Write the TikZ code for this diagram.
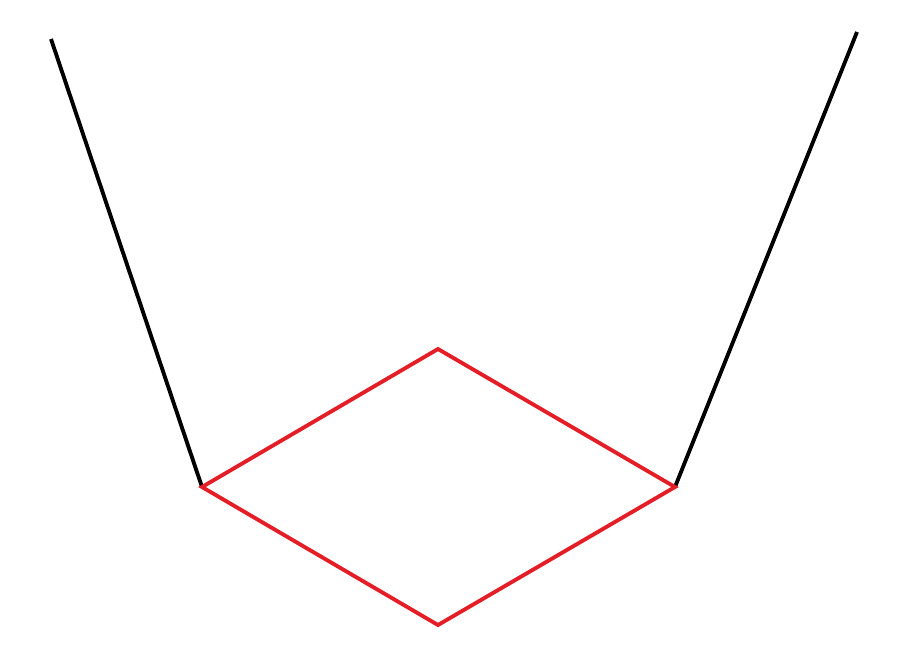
\documentclass[tikz,border=0pt]{standalone}
\definecolor{rhombred}{RGB}{228,30,38}
\begin{document}
\begin{tikzpicture}[x=0.01cm,y=-0.01cm]
            \useasboundingbox (0,0) rectangle (900,645);
            \coordinate (LT) at (51,39);
            \coordinate (L) at (202,487);
            \coordinate (T) at (438,349);
            \coordinate (R) at (675,487);
            \coordinate (B) at (438,625);
            \coordinate (RT) at (857,32);

            \path [-,draw=black,line width=1.1pt] (LT) edge (L);
            \path [-,draw=black,line width=1.1pt] (R) edge (RT);
            \draw [rhombred,line width=1.1pt,line join=miter] (L) -- (T) -- (R) -- (B) -- cycle;
        \end{tikzpicture}
\end{document}
